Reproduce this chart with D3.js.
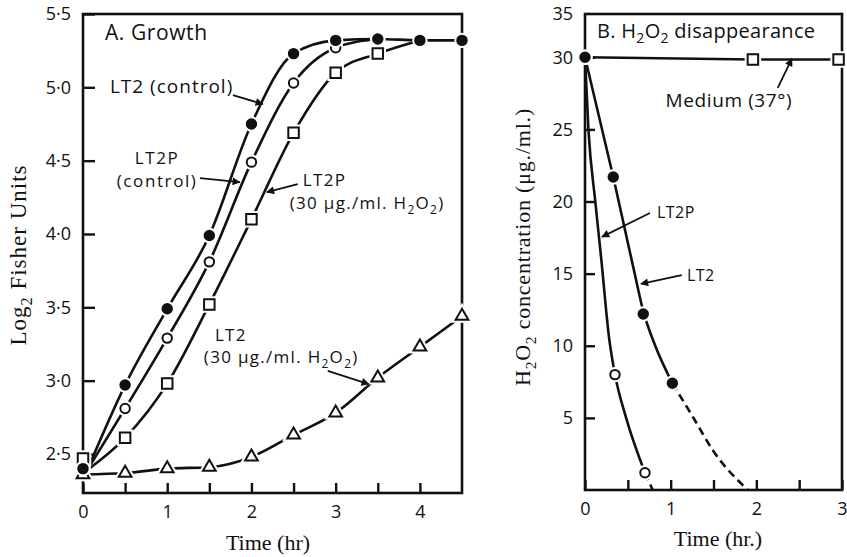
<!DOCTYPE html>
<html><head><meta charset="utf-8">
<script src="https://cdn.jsdelivr.net/npm/d3@7"></script>
<style>
html,body{margin:0;padding:0;background:#fff;}
svg{display:block;}
</style></head>
<body>
<svg id="chart" width="847" height="557"></svg>
<script>
// ---------- DATA : Panel A (growth) ----------
const timeA = [0, 0.5, 1, 1.5, 2, 2.5, 3, 3.5, 4, 4.5];
const lt2Control = [2.40, 2.97, 3.49, 3.99, 4.75, 5.23, 5.32, 5.33, 5.32, 5.32];
const lt2pControlTime = [0, 0.5, 1, 1.5, 2, 2.5, 3, 3.5];
const lt2pControl = [2.40, 2.81, 3.29, 3.81, 4.49, 5.03, 5.27, 5.33];
const lt2pH2O2Time = [0, 0.5, 1, 1.5, 2, 2.5, 3, 3.5, 4];
const lt2pH2O2 = [2.47, 2.61, 2.98, 3.52, 4.10, 4.69, 5.10, 5.23, 5.32];
const lt2H2O2 = [2.36, 2.37, 2.40, 2.41, 2.48, 2.63, 2.78, 3.02, 3.23, 3.44];
const inoculum = [0.05, 2.39];           // common starting point of the growth curves
const yTicksA = [2.5, 3.0, 3.5, 4.0, 4.5, 5.0, 5.5];
const yTickLabelsA = ["2·5", "3·0", "3·5", "4·0", "4·5", "5·0", "5·5"];
const xTicksA = [0, 0.5, 1, 1.5, 2, 2.5, 3, 3.5, 4];
const xTickLabelsA = ["0", "", "1", "", "2", "", "3", "", "4"];

// ---------- DATA : Panel B (H2O2 disappearance) ----------
const mediumTime = [0, 1.96, 2.96];
const mediumConc = [30, 29.85, 29.85];
const lt2BTime = [0, 0.33, 0.68, 1.02];
const lt2BConc = [30, 21.7, 12.2, 7.4];
const lt2BCurveTime = [0, 0.33, 0.58, 0.68, 0.82, 1.02];
const lt2BCurveConc = [30, 21.7, 15.0, 12.4, 10.0, 7.4];
const lt2BDashTime = [1.02, 1.26, 1.49, 1.9];
const lt2BDashConc = [7.4, 5.06, 2.77, 0];
const lt2pBTime = [0, 0.35, 0.70];
const lt2pBConc = [30, 8.0, 1.2];
const lt2pBCurveTime = [0, 0.04, 0.12, 0.19, 0.28, 0.35, 0.48, 0.70];
const lt2pBCurveConc = [30, 25, 20, 16, 10.6, 8.0, 5.0, 1.2];
const lt2pBDashTime = [0.70, 0.79];
const lt2pBDashConc = [1.2, 0];
const yTicksB = [5, 10, 15, 20, 25, 30];
const yTopLabelB = "35";
const xTicksB = [0, 0.5, 1, 1.5, 2, 2.5, 3];
const xTickLabelsB = ["0", "", "1", "", "2", "", "3"];

// ---------- SETUP ----------
const svg = d3.select("#chart");
const SANS = "'Open Sans', 'Noto Sans', sans-serif";
const SERIF = "'Liberation Serif', 'DejaVu Serif', serif";
const INK = "#111";

svg.append("defs").append("marker")
  .attr("id", "arrow").attr("viewBox", "0 0 10 10")
  .attr("refX", 9).attr("refY", 5)
  .attr("markerWidth", 10).attr("markerHeight", 8)
  .attr("markerUnits", "userSpaceOnUse")
  .attr("orient", "auto")
  .append("path").attr("d", "M0,0 L10,5 L0,10 z").attr("fill", INK);

const xA = d3.scaleLinear().domain([0, 4.5]).range([83, 462]);
const yA = d3.scaleLinear().domain([2.234, 5.5]).range([493, 14]);
const xB = d3.scaleLinear().domain([0, 3]).range([585, 842]);
const yB = d3.scaleLinear().domain([0, 33]).range([490, 14]);

// rich text: "_2" -> subscript 2
function rich(sel, str, fs, first) {
  const parts = str.split(/(_\d)/);
  let sub = false;
  parts.forEach(p => {
    if (!p) return;
    if (p[0] === "_") {
      sel.append("tspan").attr("dy", fs * 0.28).attr("font-size", fs * 0.7).text(p[1]);
      sub = true;
    } else {
      const t = sel.append("tspan").text(p);
      if (first) { first(t); first = null; }
      if (sub) { t.attr("dy", -fs * 0.28); sub = false; }
    }
  });
}

function frame(x, y) {
  const [x0, x1] = x.range(), [y0, y1] = y.range();
  svg.append("rect")
    .attr("x", x0).attr("y", y1).attr("width", x1 - x0).attr("height", y0 - y1)
    .attr("fill", "none").attr("stroke", INK).attr("stroke-width", 2.6);
}

function styleAxis(g) {
  g.select(".domain").remove();
  g.selectAll(".tick line").attr("stroke", INK).attr("stroke-width", 2.4);
  g.selectAll(".tick text").attr("fill", INK).attr("font-family", SANS).attr("font-size", 18);
}

// ---------- PANEL A ----------
frame(xA, yA);
svg.append("g").attr("transform", `translate(${xA.range()[0]},0)`)
  .call(d3.axisLeft(yA).tickValues(yTicksA).tickSize(-12).tickPadding(12)
    .tickFormat((d, i) => yTickLabelsA[i]))
  .call(styleAxis);
svg.append("g").attr("transform", `translate(0,${yA.range()[0]})`)
  .call(d3.axisBottom(xA).tickValues(xTicksA).tickSize(-10).tickPadding(12)
    .tickFormat((d, i) => xTickLabelsA[i]))
  .call(styleAxis);

const lineA = d3.line().x(d => xA(d[0])).y(d => yA(d[1])).curve(d3.curveMonotoneX);
const zip = (t, v) => t.map((d, i) => [d, v[i]]);

const lt2CtrlPts = zip(timeA, lt2Control);
const lt2pCtrlPts = zip(lt2pControlTime, lt2pControl);
const lt2pH2Pts = zip(lt2pH2O2Time, lt2pH2O2);
const lt2H2Pts = zip(timeA, lt2H2O2);

function drawLine(pts, lineGen, dash) {
  svg.append("path").attr("d", lineGen(pts)).attr("fill", "none")
    .attr("stroke", INK).attr("stroke-width", 2.6)
    .attr("stroke-dasharray", dash || null);
}
drawLine([inoculum, ...lt2pH2Pts.slice(1)], lineA);
drawLine(lt2H2Pts, lineA);
drawLine([inoculum, ...lt2pCtrlPts.slice(1)], lineA);
drawLine([inoculum, ...lt2CtrlPts.slice(1)], lineA);

function drawMarkers(pts, x, y, type, size, filled) {
  const sym = d3.symbol().type(type).size(size);
  const g = svg.append("g");
  g.selectAll("path.halo").data(pts).join("path")
    .attr("transform", d => `translate(${x(d[0])},${y(d[1])})`)
    .attr("d", sym).attr("fill", "#fff").attr("stroke", "#fff").attr("stroke-width", 6);
  g.selectAll("path.mk").data(pts).join("path")
    .attr("transform", d => `translate(${x(d[0])},${y(d[1])})`)
    .attr("d", sym).attr("fill", filled ? INK : "#fff")
    .attr("stroke", INK).attr("stroke-width", 2);
}
drawMarkers(lt2H2Pts, xA, yA, d3.symbolTriangle, 70, false);
drawMarkers(lt2pH2Pts.slice(0, 8), xA, yA, d3.symbolSquare, 110, false);
drawMarkers(lt2pCtrlPts, xA, yA, d3.symbolCircle, 70, false);
drawMarkers(lt2CtrlPts, xA, yA, d3.symbolCircle, 70, true);

// annotations panel A (data units); multi-line labels as one text with lines
const annA = [
  { lines: [{ t: 0.26, v: 5.322, s: "A. Growth" }], a: "start", fs: 21, ls: 0.6 },
  { lines: [{ t: 0.32, v: 4.96, s: "LT2 (control)" }], a: "start", fs: 19, ls: 1 },
  { lines: [{ t: 0.88, v: 4.48, s: "LT2P" }, { t: 0.88, v: 4.318, s: "(control)" }], a: "middle", fs: 17, ls: 1.6 },
  { lines: [{ t: 2.61, v: 4.33, s: "LT2P" }, { t: 2.455, v: 4.172, s: "(30 μg./ml. H_2O_2)" }], a: "start", fs: 17, ls: 1.3 },
  { lines: [{ t: 1.566, v: 3.27, s: "LT2" }, { t: 1.435, v: 3.118, s: "(30 μg./ml. H_2O_2)" }], a: "start", fs: 17, ls: 1.3 }
];
const arrowsA = [
  [1.78, 4.947, 2.135, 4.886],
  [1.388, 4.381, 1.862, 4.354],
  [2.55, 4.34, 2.183, 4.286],
  [2.906, 3.066, 3.393, 2.977]
];

function drawAnn(list, x, y) {
  list.forEach(o => {
    const t = svg.append("text").attr("x", x(o.lines[0].t)).attr("y", y(o.lines[0].v))
      .attr("text-anchor", o.a).attr("font-family", SANS).attr("font-size", o.fs)
      .attr("letter-spacing", o.ls || 0).attr("fill", INK);
    o.lines.forEach((ln, i) => {
      rich(t, ln.s, o.fs, i === 0 ? null : sp => sp.attr("x", x(ln.t)).attr("y", y(ln.v)));
    });
  });
}
function drawArrows(list, x, y) {
  list.forEach(a => {
    svg.append("line").attr("x1", x(a[0])).attr("y1", y(a[1]))
      .attr("x2", x(a[2])).attr("y2", y(a[3]))
      .attr("stroke", INK).attr("stroke-width", 1.8).attr("marker-end", "url(#arrow)");
  });
}
drawAnn(annA, xA, yA);
drawArrows(arrowsA, xA, yA);

// axis titles A
svg.append("text").attr("x", 268).attr("y", 550).attr("text-anchor", "middle")
  .attr("font-family", SERIF).attr("font-size", 22).attr("fill", INK).text("Time (hr)");
const lA = svg.append("text").attr("transform", "translate(26,255) rotate(-90)")
  .attr("text-anchor", "middle").attr("font-family", SERIF).attr("font-size", 23)
  .attr("letter-spacing", 1).attr("fill", INK);
rich(lA, "Log_2 Fisher Units", 23);

// ---------- PANEL B ----------
frame(xB, yB);
svg.append("g").attr("transform", `translate(${xB.range()[0]},0)`)
  .call(d3.axisLeft(yB).tickValues(yTicksB).tickSize(-10).tickPadding(12))
  .call(styleAxis);
svg.append("text").attr("x", xB.range()[0] - 12).attr("y", yB(yB.domain()[1]))
  .attr("dy", "0.32em").attr("text-anchor", "end").attr("font-family", SANS)
  .attr("font-size", 18).attr("fill", INK).text(yTopLabelB);
svg.append("g").attr("transform", `translate(0,${yB.range()[0]})`)
  .call(d3.axisBottom(xB).tickValues(xTicksB).tickSize(-10).tickPadding(12)
    .tickFormat((d, i) => xTickLabelsB[i]))
  .call(styleAxis);

const lineB = d3.line().x(d => xB(d[0])).y(d => yB(d[1])).curve(d3.curveMonotoneX);
const lineBStraight = d3.line().x(d => xB(d[0])).y(d => yB(d[1]));
drawLine(zip(mediumTime, mediumConc), lineBStraight);
drawLine(zip(lt2BCurveTime, lt2BCurveConc), lineB);
drawLine(zip(lt2BDashTime, lt2BDashConc), lineB, "8,5");
drawLine(zip(lt2pBCurveTime, lt2pBCurveConc), lineB);
drawLine(zip(lt2pBDashTime, lt2pBDashConc), lineB, "8,5");

drawMarkers(zip(mediumTime, mediumConc).slice(1), xB, yB, d3.symbolSquare, 110, false);
drawMarkers(zip(lt2pBTime, lt2pBConc), xB, yB, d3.symbolCircle, 70, false);
drawMarkers(zip(lt2BTime, lt2BConc), xB, yB, d3.symbolCircle, 70, true);

const annB = [
  { lines: [{ t: 0.14, v: 31.35, s: "B.  H_2O_2 disappearance" }], a: "start", fs: 20, ls: 0.3 },
  { lines: [{ t: 1.68, v: 26.56, s: "Medium (37°)" }], a: "middle", fs: 19, ls: 0.6 },
  { lines: [{ t: 0.84, v: 18.86, s: "LT2P" }], a: "start", fs: 16, ls: 0.5 },
  { lines: [{ t: 1.19, v: 14.5, s: "LT2" }], a: "start", fs: 16, ls: 0.5 }
];
const arrowsB = [
  [2.25, 27.88, 2.415, 29.9],
  [0.758, 19.2, 0.198, 17.55],
  [1.13, 14.9, 0.653, 14.29]
];
drawAnn(annB, xB, yB);
drawArrows(arrowsB, xB, yB);

svg.append("text").attr("x", 718).attr("y", 546).attr("text-anchor", "middle")
  .attr("font-family", SERIF).attr("font-size", 22).attr("fill", INK).text("Time (hr.)");
const lB = svg.append("text").attr("transform", "translate(530,247) rotate(-90)")
  .attr("text-anchor", "middle").attr("font-family", SERIF).attr("font-size", 22)
  .attr("letter-spacing", 0.8).attr("fill", INK);
rich(lB, "H_2O_2 concentration (μg./ml.)", 22);
</script>
</body></html>
